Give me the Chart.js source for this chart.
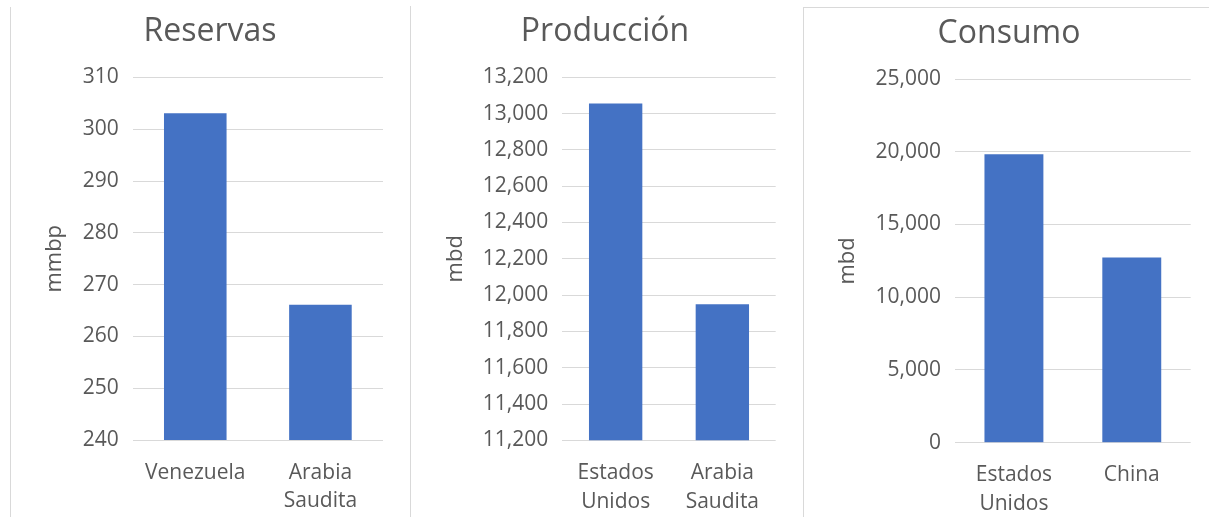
<!DOCTYPE html>
<html>
<head>
<meta charset="utf-8">
<script src="https://cdn.jsdelivr.net/npm/chart.js@4"></script>
<style>
  html, body { margin:0; padding:0; background:#fff; width:1209px; height:517px; overflow:hidden; }
  .panel { position:absolute; top:7px; height:510px; }
  .vline { position:absolute; width:1px; background:#d9d9d9; }
  .hline { position:absolute; height:1px; background:#d9d9d9; }
  .title { position:absolute; width:300px; text-align:center; font-family:"Open Sans","Noto Sans",sans-serif;
           font-size:32px; line-height:38px; color:#595959; white-space:nowrap; }
</style>
</head>
<body>
<div class="vline" style="left:10px; top:7px; height:510px;"></div>
<div class="vline" style="left:410px; top:6px; height:511px;"></div>
<div class="vline" style="left:803px; top:7px; height:510px;"></div>
<div class="hline" style="left:803px; top:7px; width:406px;"></div>

<div class="panel" style="left:10px; width:400px;"><canvas id="c1"></canvas></div>
<div class="panel" style="left:410px; width:393px;"><canvas id="c2"></canvas></div>
<div class="panel" style="left:803px; width:406px;"><canvas id="c3"></canvas></div>

<div class="title" id="t1" style="left:60px; top:10px;"></div>
<div class="title" id="t2" style="left:455px; top:10px;"></div>
<div class="title" id="t3" style="left:859px; top:11.5px;"></div>

<script>
// ---- Data ----
const reservasTitle = 'Reservas';
const reservasUnit = 'mmbp';
const reservasCats = ['Venezuela', ['Arabia', 'Saudita']];
const reservasVals = [303.1, 266.1];
const reservasTicks = [240, 250, 260, 270, 280, 290, 300, 310];

const produccionTitle = 'Producción';
const produccionUnit = 'mbd';
const produccionCats = [['Estados', 'Unidos'], ['Arabia', 'Saudita']];
const produccionVals = [13055, 11950];
const produccionTicks = [11200, 11400, 11600, 11800, 12000, 12200, 12400, 12600, 12800, 13000, 13200];

const consumoTitle = 'Consumo';
const consumoUnit = 'mbd';
const consumoCats = [['Estados', 'Unidos'], 'China'];
const consumoVals = [19820, 12730];
const consumoTicks = [0, 5000, 10000, 15000, 20000, 25000];

// ---- Styling ----
const FONT = '"Open Sans", "Noto Sans", sans-serif';
const TEXT = '#595959';
const GRID = '#d9d9d9';
const BAR = '#4472C4';

function makeChart(id, titleId, title, unit, cats, vals, ticks, lay) {
  document.getElementById(titleId).textContent = title;
  const fmt = new Intl.NumberFormat('en-US');
  new Chart(document.getElementById(id), {
    type: 'bar',
    data: {
      labels: cats,
      datasets: [{ data: vals, backgroundColor: BAR, borderWidth: 0,
                   barPercentage: 0.5, categoryPercentage: 1.0 }]
    },
    options: {
      responsive: true,
      maintainAspectRatio: false,
      animation: false,
      devicePixelRatio: 1,
      layout: { padding: { left: 0, right: lay.right, top: lay.top, bottom: 0 } },
      plugins: {
        legend: { display: false },
        tooltip: { enabled: false },
        title: { display: false }
      },
      scales: {
        x: {
          grid: { display: false, drawTicks: false },
          border: { display: false },
          ticks: { color: TEXT, padding: 18.5, maxRotation: 0, autoSkip: false,
                   font: { family: FONT, size: 21, lineHeight: 1.36 } },
          afterFit: (s) => { s.height = lay.xh; }
        },
        y: {
          min: ticks[0], max: ticks[ticks.length - 1],
          afterBuildTicks: (s) => { s.ticks = ticks.map(v => ({ value: v })); },
          grid: { color: GRID, lineWidth: 1, drawTicks: false },
          border: { display: false },
          ticks: { color: TEXT, padding: 14,
                   font: { family: FONT, size: 21 },
                   callback: (v) => fmt.format(v) },
          title: { display: true, text: unit, color: TEXT,
                   font: { family: FONT, size: 22, lineHeight: 1.2 },
                   padding: { top: lay.ytPad, bottom: 0 } },
          afterFit: (s) => { s.width = lay.left; }
        }
      }
    }
  });
}

makeChart('c1', 't1', reservasTitle, reservasUnit, reservasCats, reservasVals, reservasTicks,
  { left: 122.7, right: 27, top: 70.5, xh: 77, ytPad: 32 });
makeChart('c2', 't2', produccionTitle, produccionUnit, produccionCats, produccionVals, produccionTicks,
  { left: 152.3, right: 27.3, top: 70.3, xh: 76.7, ytPad: 33 });
makeChart('c3', 't3', consumoTitle, consumoUnit, consumoCats, consumoVals, consumoTicks,
  { left: 152, right: 18.3, top: 72, xh: 74.3, ytPad: 32 });
</script>
</body>
</html>
